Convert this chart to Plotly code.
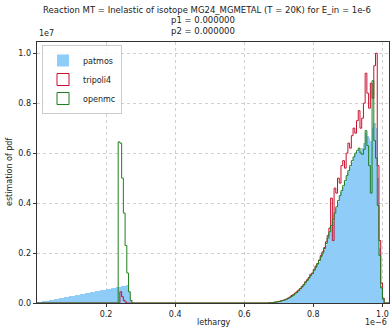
import numpy as np
import plotly.graph_objects as go

BIN_W = 0.005  # bin width (lethargy, units of 1e-6)

# --- values (pdf in units of 1e7) ---
# low region bins 0.000 -> 0.280 (56 bins)
patmos_low = [0.001, 0.002, 0.0035, 0.005, 0.0065, 0.008, 0.009, 0.0105, 0.012, 0.0135,
              0.015, 0.0165, 0.018, 0.019, 0.0205, 0.022, 0.0235, 0.025, 0.026, 0.0275,
              0.029, 0.030, 0.0315, 0.033, 0.034, 0.0355, 0.037, 0.038, 0.0395, 0.041,
              0.042, 0.0435, 0.045, 0.046, 0.0475, 0.049, 0.050, 0.0515, 0.053, 0.054,
              0.0555, 0.057, 0.058, 0.0595, 0.061, 0.062, 0.0635, 0.065, 0.066, 0.0675,
              0.069, 0.070, 0.0715, 0.045, 0.006, 0.0]
tripoli_low = [0.0] * 48 + [0.045, 0.025, 0.010, 0.003, 0.0, 0.0, 0.0, 0.0]
openmc_low = [0.0] * 47 + [0.645, 0.64, 0.50, 0.36, 0.23, 0.12, 0.045, 0.01, 0.0]

# middle region bins 0.280 -> 0.650 (74 bins), empty
mid_zeros = [0.0] * 74

# high region bins 0.650 -> 1.020 (74 bins)
patmos_high = [0, 0, 0, 0, 0.0, 0.001, 0.001, 0.002, 0.003, 0.004,
               0.005, 0.007, 0.009, 0.011, 0.013, 0.016, 0.019, 0.023, 0.028, 0.033,
               0.038, 0.045, 0.052, 0.060, 0.068, 0.077, 0.087, 0.097, 0.107, 0.116,
               0.127, 0.139, 0.152, 0.166, 0.180, 0.196, 0.213, 0.232, 0.254, 0.278,
               0.303, 0.33, 0.355, 0.38, 0.405, 0.425, 0.445, 0.465, 0.485, 0.505,
               0.525, 0.545, 0.565, 0.58, 0.595, 0.605, 0.615, 0.61, 0.62, 0.64,
               0.68, 0.67, 0.66, 0.65, 0.70, 0.72, 0.70, 0.50, 0.22, 0.07,
               0.015, 0.0, 0.0, 0.0]
tripoli_high = [0, 0, 0, 0, 0.001, 0.001, 0.002, 0.003, 0.004, 0.005,
                0.007, 0.009, 0.011, 0.013, 0.016, 0.020, 0.024, 0.030, 0.034, 0.040,
                0.045, 0.052, 0.058, 0.066, 0.074, 0.085, 0.093, 0.102, 0.115, 0.118,
                0.135, 0.148, 0.158, 0.172, 0.190, 0.205, 0.222, 0.245, 0.27, 0.30,
                0.42, 0.25, 0.46, 0.44, 0.50, 0.48, 0.55, 0.57, 0.54, 0.60,
                0.64, 0.62, 0.67, 0.70, 0.68, 0.73, 0.77, 0.70, 0.74, 0.80,
                0.92, 0.84, 0.78, 0.88, 0.82, 0.95, 1.00, 0.55, 0.25, 0.08,
                0.02, 0.0, 0.0, 0.0]
openmc_high = [0, 0, 0, 0, 0.001, 0.001, 0.002, 0.003, 0.004, 0.005,
               0.006, 0.008, 0.010, 0.012, 0.015, 0.018, 0.022, 0.026, 0.031, 0.036,
               0.042, 0.049, 0.056, 0.064, 0.072, 0.081, 0.090, 0.100, 0.110, 0.120,
               0.131, 0.143, 0.156, 0.170, 0.185, 0.200, 0.218, 0.238, 0.260, 0.285,
               0.31, 0.335, 0.36, 0.385, 0.41, 0.43, 0.45, 0.47, 0.49, 0.51,
               0.53, 0.55, 0.57, 0.585, 0.60, 0.61, 0.62, 0.60, 0.595, 0.615,
               0.69, 0.63, 0.55, 0.44, 0.89, 0.65, 0.58, 0.39, 0.19, 0.06,
               0.015, 0.0, 0.0, 0.0]

x_ticks = [0.2, 0.4, 0.6, 0.8, 1.0]
y_ticks = [0.0, 0.2, 0.4, 0.6, 0.8, 1.0]

patmos = np.array(patmos_low + mid_zeros + patmos_high)
tripoli = np.array(tripoli_low + mid_zeros + tripoli_high)
openmc = np.array(openmc_low + mid_zeros + openmc_high)
n_bins = len(patmos)
edges = np.arange(n_bins + 1) * BIN_W
centers = edges[:-1] + BIN_W / 2


def step_xy(vals):
    xs = np.concatenate([[edges[0]], edges[:-1], [edges[-1]]])
    ys = np.concatenate([[0.0], vals, [0.0]])
    return xs, ys


BLUE = "#8fcdf8"
RED = "#c8102e"
GREEN = "#1f7f1f"

fig = go.Figure()
fig.add_trace(go.Bar(x=centers, y=patmos, width=BIN_W, name="patmos",
                     marker=dict(color=BLUE, line=dict(width=0)), showlegend=True))
xs, ys = step_xy(tripoli)
fig.add_trace(go.Scatter(x=xs, y=ys, mode="lines", line=dict(color=RED, width=1, shape="hv"),
                         showlegend=False, name="tripoli4"))
xs, ys = step_xy(openmc)
fig.add_trace(go.Scatter(x=xs, y=ys, mode="lines", line=dict(color=GREEN, width=1, shape="hv"),
                         showlegend=False, name="openmc"))
# legend entries (outlined patches), zero-height proxies
fig.add_trace(go.Bar(x=centers[:1], y=tripoli[:1], width=1e-9, name="tripoli4",
                     marker=dict(color="rgba(0,0,0,0)", line=dict(color=RED, width=1))))
fig.add_trace(go.Bar(x=centers[:1], y=openmc[:1], width=1e-9, name="openmc",
                     marker=dict(color="rgba(0,0,0,0)", line=dict(color=GREEN, width=1))))

L, R, T, B = 37, 3, 42, 24
W, H = 392, 327
ph = H - T - B
pw = W - L - R

def py(ypx):
    return (H - B - ypx) / ph

def px(xpx):
    return (xpx - L) / pw

font = "DejaVu Sans"
txt = "#222222"
ann = [
    dict(text="Reaction MT = Inelastic of isotope MG24_MGMETAL (T = 20K) for E_in = 1e-6",
         x=px(207), y=py(9.5), size=8.5),
    dict(text="p1 = 0.000000", x=px(203), y=py(20.5), size=8.5),
    dict(text="p2 = 0.000000", x=px(203), y=py(31), size=8.5),
]
annotations = []
for a in ann:
    annotations.append(dict(text=a["text"], x=a["x"], y=a["y"], xref="paper", yref="paper",
                            xanchor="center", yanchor="middle", showarrow=False,
                            font=dict(family=font, size=a["size"], color=txt)))
annotations += [
    dict(text="1e7", x=0, y=py(34), xref="paper", yref="paper", xanchor="left",
         yanchor="middle", showarrow=False, font=dict(family=font, size=8, color=txt)),
    dict(text="1e\u22126", x=1, y=py(322.5), xref="paper", yref="paper", xanchor="right",
         yanchor="middle", showarrow=False, font=dict(family=font, size=8, color=txt)),
    dict(text="lethargy", x=0.5, y=py(322.5), xref="paper", yref="paper", xanchor="center",
         yanchor="middle", showarrow=False, font=dict(family=font, size=8, color=txt)),
    dict(text="estimation of pdf", x=px(9), y=py(172), xref="paper", yref="paper",
         xanchor="center", yanchor="middle", textangle=-90, showarrow=False,
         font=dict(family=font, size=8, color=txt)),
]

fig.update_layout(
    width=W, height=H,
    margin=dict(l=L, r=R, t=T, b=B, pad=0),
    paper_bgcolor="white", plot_bgcolor="white",
    bargap=0, barmode="overlay",
    font=dict(family=font, size=8, color=txt),
    annotations=annotations,
    legend=dict(x=px(42), y=py(45), xanchor="left", yanchor="top",
                bgcolor="rgba(255,255,255,0.85)", bordercolor="#cccccc", borderwidth=1,
                font=dict(family=font, size=8, color=txt), tracegroupgap=0,
                itemwidth=30),
    xaxis=dict(range=[0, 1.019], tickvals=x_ticks, ticktext=[f"{v:.1f}" for v in x_ticks],
               showgrid=True, gridcolor="#d0d0d0", griddash="dot", gridwidth=0.8,
               showline=True, mirror=True, linecolor="#333333", linewidth=0.8,
               ticks="outside", ticklen=3, tickwidth=0.8, tickcolor="#333333",
               zeroline=False, tickfont=dict(size=8)),
    yaxis=dict(range=[0, 1.045], tickvals=y_ticks, ticktext=[f"{v:.1f}" for v in y_ticks],
               showgrid=True, gridcolor="#d0d0d0", griddash="dot", gridwidth=0.8,
               showline=True, mirror=True, linecolor="#333333", linewidth=0.8,
               ticks="outside", ticklen=3.5, tickwidth=0.8, tickcolor="#333333",
               zeroline=False, tickfont=dict(size=8)),
)

fig.write_html("out.html")
